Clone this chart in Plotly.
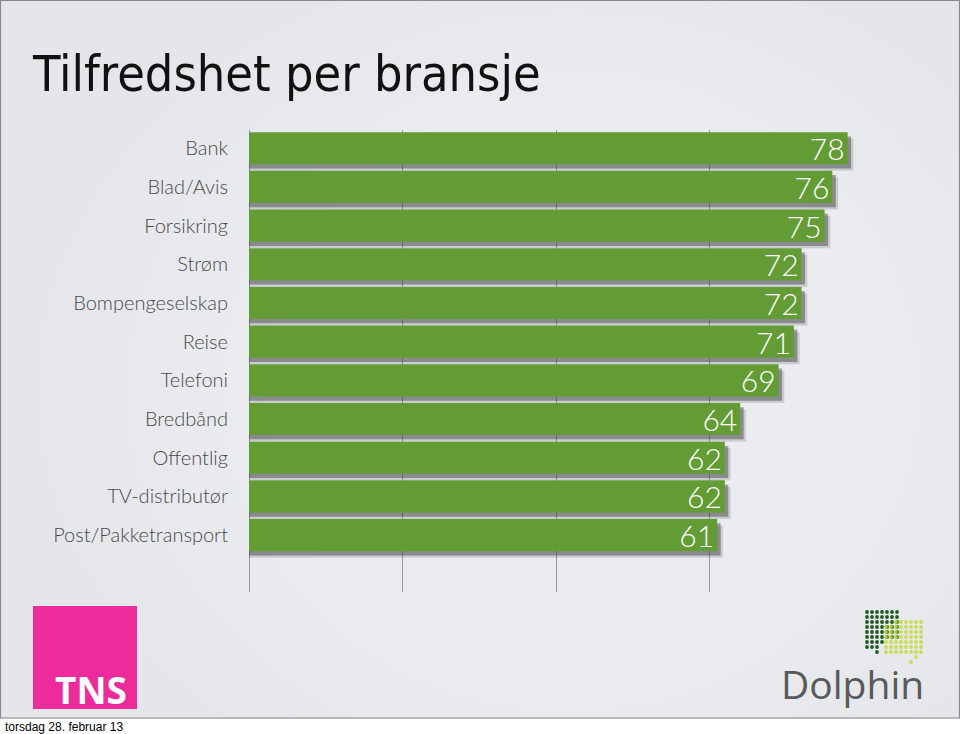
import plotly.graph_objects as go

categories = ["Bank", "Blad/Avis", "Forsikring", "Strøm", "Bompengeselskap", "Reise",
              "Telefoni", "Bredbånd", "Offentlig", "TV-distributør", "Post/Pakketransport"]
values = [78, 76, 75, 72, 72, 71, 69, 64, 62, 62, 61]
x_ticks = [0, 20, 40, 60, 80]

W, H = 960, 734
L, R, T, B = 249, 863, 130, 592   # plot area in pixels


def px(x):
    return (x - L) / (R - L)


def py(y):
    return (B - y) / (B - T)


BAR_W = 0.83
BAR_OFF = -BAR_W / 2

fig = go.Figure()
# soft drop shadows (derived from the same values)
fig.add_trace(go.Bar(y=categories, x=[v + 0.75 for v in values], orientation="h",
                     width=BAR_W, offset=BAR_OFF + 0.17,
                     marker=dict(color="rgba(60,60,60,0.18)", line=dict(width=0)),
                     hoverinfo="skip", showlegend=False))
fig.add_trace(go.Bar(y=categories, x=[v + 0.45 for v in values], orientation="h",
                     width=BAR_W, offset=BAR_OFF + 0.11,
                     marker=dict(color="rgba(60,60,60,0.45)", line=dict(width=0)),
                     hoverinfo="skip", showlegend=False))
# main bars
fig.add_trace(go.Bar(y=categories, x=values, orientation="h",
                     width=BAR_W, offset=BAR_OFF,
                     marker=dict(color="#639c35", line=dict(width=0)),
                     text=[str(v) for v in values], textposition="inside", textangle=0,
                     insidetextanchor="end", constraintext="none",
                     textfont=dict(family="Lato", size=30, color="white", weight=300),
                     showlegend=False))

shapes = []
# soft lighter centre of background (layered ellipses for a gentle gradient)
for k in range(6):
    g = k * 45
    shapes.append(dict(type="circle", xref="paper", yref="paper",
                       x0=px(40 + g), x1=px(1100 - g), y0=py(820 - g * 0.6), y1=py(-40 + g * 0.6),
                       fillcolor="rgba(255,255,255,0.07)", line=dict(width=0), layer="below"))
# bottom white strip & frame
shapes.append(dict(type="rect", xref="paper", yref="paper", x0=px(-2), x1=px(W + 2), y0=py(H + 2), y1=py(719),
                   fillcolor="white", line=dict(width=0), layer="below"))
shapes.append(dict(type="rect", xref="paper", yref="paper", x0=px(0.5), x1=px(W - 0.5), y0=py(718), y1=py(0.5),
                   fillcolor="rgba(0,0,0,0)", line=dict(color="#8a8a8a", width=1.2), layer="above"))
# TNS logo box
shapes.append(dict(type="rect", xref="paper", yref="paper", x0=px(33), x1=px(137), y0=py(709), y1=py(606),
                   fillcolor="#ed2c9c", line=dict(width=0)))

# Dolphin dot logo
sp = 5.0
r = 1.9
dark = []
for j in range(9):
    if j <= 5:
        cols = range(7)
    elif j == 6:
        cols = range(4)
    elif j == 7:
        cols = range(3)
    else:
        cols = [2]
    for i in cols:
        dark.append((867 + sp * i, 612 + sp * j))
lime = []
for j in range(7):
    for i in range(8):
        if j == 0 and i < 2:
            continue
        lime.append((886 + sp * i, 622 + sp * j))
lime += [(916, 657), (911, 662)]
for (cx, cy) in dark:
    shapes.append(dict(type="circle", xref="paper", yref="paper", x0=px(cx - r), x1=px(cx + r),
                       y0=py(cy + r), y1=py(cy - r), fillcolor="#1f5a1e", line=dict(width=0)))
for (cx, cy) in lime:
    shapes.append(dict(type="circle", xref="paper", yref="paper", x0=px(cx - r), x1=px(cx + r),
                       y0=py(cy + r), y1=py(cy - r), fillcolor="rgba(196,218,50,0.85)", line=dict(width=0)))

annotations = [
    dict(text="Tilfredshet per bransje", xref="paper", yref="paper", x=px(30), y=py(74),
         xanchor="left", yanchor="middle", showarrow=False,
         font=dict(family="DejaVu Sans Condensed, Roboto, sans-serif", size=50, color="#111111")),
    dict(text="<b>TNS</b>", xref="paper", yref="paper", x=px(129), y=py(689),
         xanchor="right", yanchor="middle", showarrow=False,
         font=dict(family="Open Sans", size=37, color="white")),
    dict(text="Dolphin", xref="paper", yref="paper", x=px(779), y=py(683),
         xanchor="left", yanchor="middle", showarrow=False,
         font=dict(family="Open Sans", size=39, color="#58595b")),
    dict(text="torsdag 28. februar 13", xref="paper", yref="paper", x=px(3), y=py(727),
         xanchor="left", yanchor="middle", showarrow=False,
         font=dict(family="Liberation Sans", size=12, color="#000000")),
]

fig.update_layout(
    width=W, height=H,
    margin=dict(l=L, r=W - R, t=T, b=H - B, pad=0),
    paper_bgcolor="#e4e6ea", plot_bgcolor="rgba(0,0,0,0)",
    barmode="overlay", bargap=0.17,
    shapes=shapes, annotations=annotations,
    xaxis=dict(range=[0, 80], tickvals=x_ticks, showticklabels=False, showgrid=True,
               gridcolor="#9a9a9a", gridwidth=1, zeroline=True, zerolinecolor="#9a9a9a",
               zerolinewidth=1, showline=False, ticks="", fixedrange=True),
    yaxis=dict(categoryorder="array", categoryarray=categories, range=[11.47, -0.47],
               showgrid=False, zeroline=False, showline=False, ticks="",
               ticklabelstandoff=20,
               tickfont=dict(family="Lato", size=20, color="#4a4a4a", weight=300)),
)

fig.write_html("out.html", config={"displayModeBar": False},
               post_script="document.body.style.margin='0';")
